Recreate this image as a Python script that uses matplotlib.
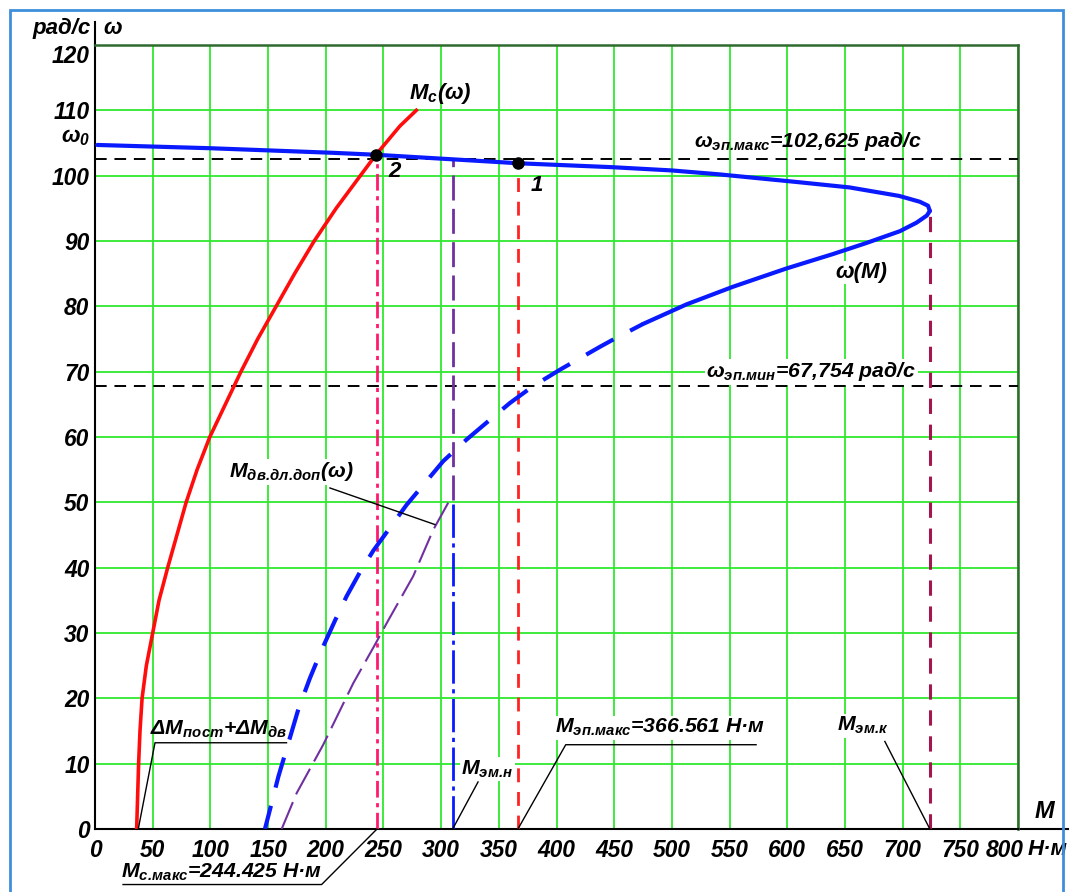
import matplotlib
matplotlib.use("Agg")
import matplotlib.pyplot as plt
from matplotlib.patches import Rectangle
from matplotlib.transforms import ScaledTranslation

FONT = "Liberation Sans"
plt.rcParams["font.family"] = [FONT, "DejaVu Sans"]
plt.rcParams["font.weight"] = "bold"
plt.rcParams["font.style"] = "italic"
plt.rcParams["mathtext.fontset"] = "custom"
plt.rcParams["mathtext.rm"] = FONT + ":italic:bold"
plt.rcParams["mathtext.it"] = FONT + ":italic:bold"
plt.rcParams["mathtext.bf"] = FONT + ":italic:bold"
plt.rcParams["mathtext.default"] = "rm"

# omega(M), working (upper) part of the curve, up to critical torque
M_top = [2, 100, 206, 243.5, 310, 366.8, 448, 500, 541, 610, 654, 697, 715, 722, 723.6]
w_top = [104.7, 104.2, 103.5, 103.2, 102.5, 101.9, 101.3, 100.8, 100.2, 99.0, 98.2, 96.9,
         96.0, 95.4, 94.6]
# omega(M), lower part: solid segment then dashed segment
M_low = [723.6, 721, 712, 697.6, 668.7, 639.6, 599.4, 553, 512.7, 475]
w_low = [94.6, 93.9, 92.8, 91.5, 89.7, 88.0, 85.8, 83.0, 80.3, 77.3]
M_start = [475, 450, 437.6, 403, 379.8, 359.6, 339.4, 322, 301.8, 270, 241.2, 229.6,
           218, 208, 196.4, 186.3, 176.2, 169, 158.9, 153, 147.3]
w_start = [77.3, 75.0, 73.8, 70.3, 67.8, 65.2, 62.2, 59.6, 56.3, 49.6, 42.6, 39.3,
           35.6, 31.9, 27.4, 23.1, 18.3, 14.0, 8.0, 3.9, 0]

# load torque Mc(omega)
Mc = [36.1, 37.8, 39.0, 40.8, 44.5, 50.0, 55.5, 63.0, 71.0, 79.0, 88.5, 99.5, 113.0,
      126.5, 141.0, 157.0, 173.0, 190.0, 209.0, 230.0, 243.5, 264.3, 278.5]
w_c = [0, 10, 15, 20, 25, 30, 35, 40, 45, 50, 55, 60, 65,
       70, 75, 80, 85, 90, 95, 100, 103.2, 107.6, 110]

# permissible long-term motor torque M_дв.дл.доп(omega)
M_dop = [161.8, 174.8, 197.8, 223.8, 242.6, 252.8, 275.8, 293.2, 307.6]
w_dop = [0, 5.5, 12.9, 22.3, 28.2, 31.5, 38.7, 45.8, 50.4]

w_ep_max = 102.625
w_ep_min = 67.754
M_c_max = 244.425
M_ep_max = 366.561
M_em_n = 310
M_em_k = 723.6
w_p1 = 101.9
w_p2 = 103.2
w_dop_end = 50.4
dM_loss = 37.5

x_ticks = list(range(0, 801, 50))
y_ticks = list(range(0, 121, 10))

LBL = 15.3  # annotation font size

fig = plt.figure(figsize=(10.71, 8.92), dpi=100)
ax = fig.add_axes([95 / 1071, 63 / 892, 923 / 1071, 784 / 892])

ax.set_xlim(0, 800)
ax.set_ylim(0, 120)
ax.set_xticks(x_ticks)
ax.set_yticks(y_ticks)
ax.grid(True, color="#2ee82e", lw=1.3, zorder=0)
ax.tick_params(length=0, labelsize=16.4, pad=7)
ax.tick_params(axis="y", pad=4)
for lab in ax.get_xticklabels() + ax.get_yticklabels():
    lab.set_fontweight("bold")
    lab.set_fontstyle("italic")
# last x label sits a little left to leave room for the unit,
# top y label a little lower to leave room for the caption
last = ax.get_xticklabels()[-1]
last.set_transform(last.get_transform() + ScaledTranslation(-0.13, 0, fig.dpi_scale_trans))
top = ax.get_yticklabels()[-1]
top.set_transform(top.get_transform() + ScaledTranslation(0, -0.09, fig.dpi_scale_trans))

ax.spines["top"].set_color("#2f6b2f")
ax.spines["right"].set_color("#2f6b2f")
ax.spines["top"].set_linewidth(1.8)
ax.spines["right"].set_linewidth(1.8)
ax.spines["left"].set_linewidth(1.5)
ax.spines["bottom"].set_linewidth(1.5)

# axis extensions beyond the plot box
ax.plot([0, 0], [120, 123.5], color="black", lw=1.5, clip_on=False)
ax.plot([800, 843], [0, 0], color="black", lw=1.5, clip_on=False)

# horizontal speed limits
ax.axhline(w_ep_max, color="black", lw=1.4, ls=(0, (6, 4)), zorder=3)
ax.axhline(w_ep_min, color="black", lw=1.4, ls=(0, (6, 4)), zorder=3)

# vertical torque markers
ax.plot([M_c_max, M_c_max], [0, w_p2], color="#ff1a6e", lw=2, ls=(0, (6, 2, 1.5, 2)), zorder=3)
ax.plot([M_ep_max, M_ep_max], [0, w_p1], color="#ff2222", lw=2, ls=(0, (5, 3.5)), zorder=3)
ax.plot([M_em_n, M_em_n], [w_dop_end, w_ep_max], color="#7030a0", lw=2, ls=(0, (9, 3)), zorder=3)
ax.plot([M_em_n, M_em_n], [0, w_dop_end], color="#0a1aff", lw=2, ls=(0, (12, 2, 1.5, 2)), zorder=3)
ax.plot([M_em_k, M_em_k], [0, w_top[-1]], color="#a3164e", lw=2.2, ls=(0, (5, 3.5)), zorder=3)

# curves
ax.plot(Mc, w_c, color="#ff0d0d", lw=2.6, zorder=4, solid_joinstyle="round")
ax.plot(M_dop, w_dop, color="#7030a0", lw=1.5, ls=(0, (14, 4)), zorder=4)
ax.plot(M_top, w_top, color="#0a1aff", lw=3, zorder=5, solid_capstyle="round",
        solid_joinstyle="round")
ax.plot(M_low, w_low, color="#0a1aff", lw=3, zorder=5, solid_capstyle="round",
        solid_joinstyle="round")
ax.plot(M_start, w_start, color="#0a1aff", lw=3, ls=(4, (7.5, 4.5)), zorder=5)

# operating points
ax.plot([M_ep_max], [w_p1], "o", color="black", ms=8, zorder=6)
ax.plot([243.5], [w_p2], "o", color="black", ms=8, zorder=6)
ax.text(383, 98.5, "1", fontsize=16, ha="center", va="center", zorder=7)
ax.text(260, 100.6, "2", fontsize=16, ha="center", va="center", zorder=7)

box = dict(facecolor="white", edgecolor="none", pad=1)
ax.text(299, 112.5, "M$_с$(ω)", fontsize=16, ha="center", va="center", zorder=7)
ax.text(664, 85.2, "ω(M)", fontsize=16, ha="center", va="center", bbox=box, zorder=7)
ax.text(618, 105.3, r"ω$_{эп.\!макс}$=102,625 рад/с", fontsize=LBL, ha="center",
        va="center", zorder=7)
ax.text(621, 70.0, r"ω$_{эп.\!мин}$=67,754 рад/с", fontsize=LBL, ha="center", va="center",
        bbox=box, zorder=7)

# annotations with leader lines
ax.text(170, 54.7, r"M$_{дв.\!дл.\!доп}$(ω)", fontsize=LBL, ha="center", va="center",
        bbox=box, zorder=7)
ax.plot([203.6, 294.6], [52.2, 46.6], color="black", lw=1, zorder=6)

ax.text(107, 15.2, "ΔM$_{пост}$+ΔM$_{дв}$", fontsize=LBL, ha="center", va="center", zorder=7)
ax.plot([dM_loss, 52, 166], [0, 13.2, 13.2], color="black", lw=1, zorder=6)

ax.text(340, 9.2, r"M$_{эм.\!н}$", fontsize=LBL, ha="center", va="center", bbox=box, zorder=7)
ax.plot([M_em_n, 332], [0, 7.2], color="black", lw=1, zorder=6)

ax.text(490, 15.5, r"M$_{эп.\!макс}$=366.561 Н·м", fontsize=LBL, ha="center", va="center",
        bbox=box, zorder=7)
ax.plot([M_ep_max, 408, 573], [0, 12.9, 12.9], color="black", lw=1, zorder=6)

ax.text(666, 15.8, r"M$_{эм.\!к}$", fontsize=LBL, ha="center", va="center", bbox=box, zorder=7)
ax.plot([M_em_k, 684.6], [0, 13.4], color="black", lw=1, zorder=6)

ax.text(110, -6.6, r"M$_{с.\!макс}$=244.425 Н·м", fontsize=LBL, ha="center", va="center",
        clip_on=False, zorder=7)
ax.plot([M_c_max, 196.4, 24.3], [0, -8.5, -8.5], color="black", lw=1, clip_on=False, zorder=6)

# axis captions
ax.text(-4, 122.5, "рад/с", fontsize=16, ha="right", va="center", clip_on=False)
ax.text(7, 122.5, "ω", fontsize=16, ha="left", va="center", clip_on=False)
ax.text(-4, 105.8, "ω$_0$", fontsize=16, ha="right", va="center", clip_on=False)
ax.text(823, 2.7, "M", fontsize=17, ha="center", va="center", clip_on=False)
ax.text(826, -3.1, "Н·м", fontsize=16, ha="center", va="center", clip_on=False)

# outer frame
fig.patches.append(Rectangle((10 / 1071, -0.05), 1053 / 1071, 1.05 - 10 / 892,
                             transform=fig.transFigure, fill=False,
                             edgecolor="#3d8fdc", lw=2))

fig.savefig("out.png", dpi=100)
